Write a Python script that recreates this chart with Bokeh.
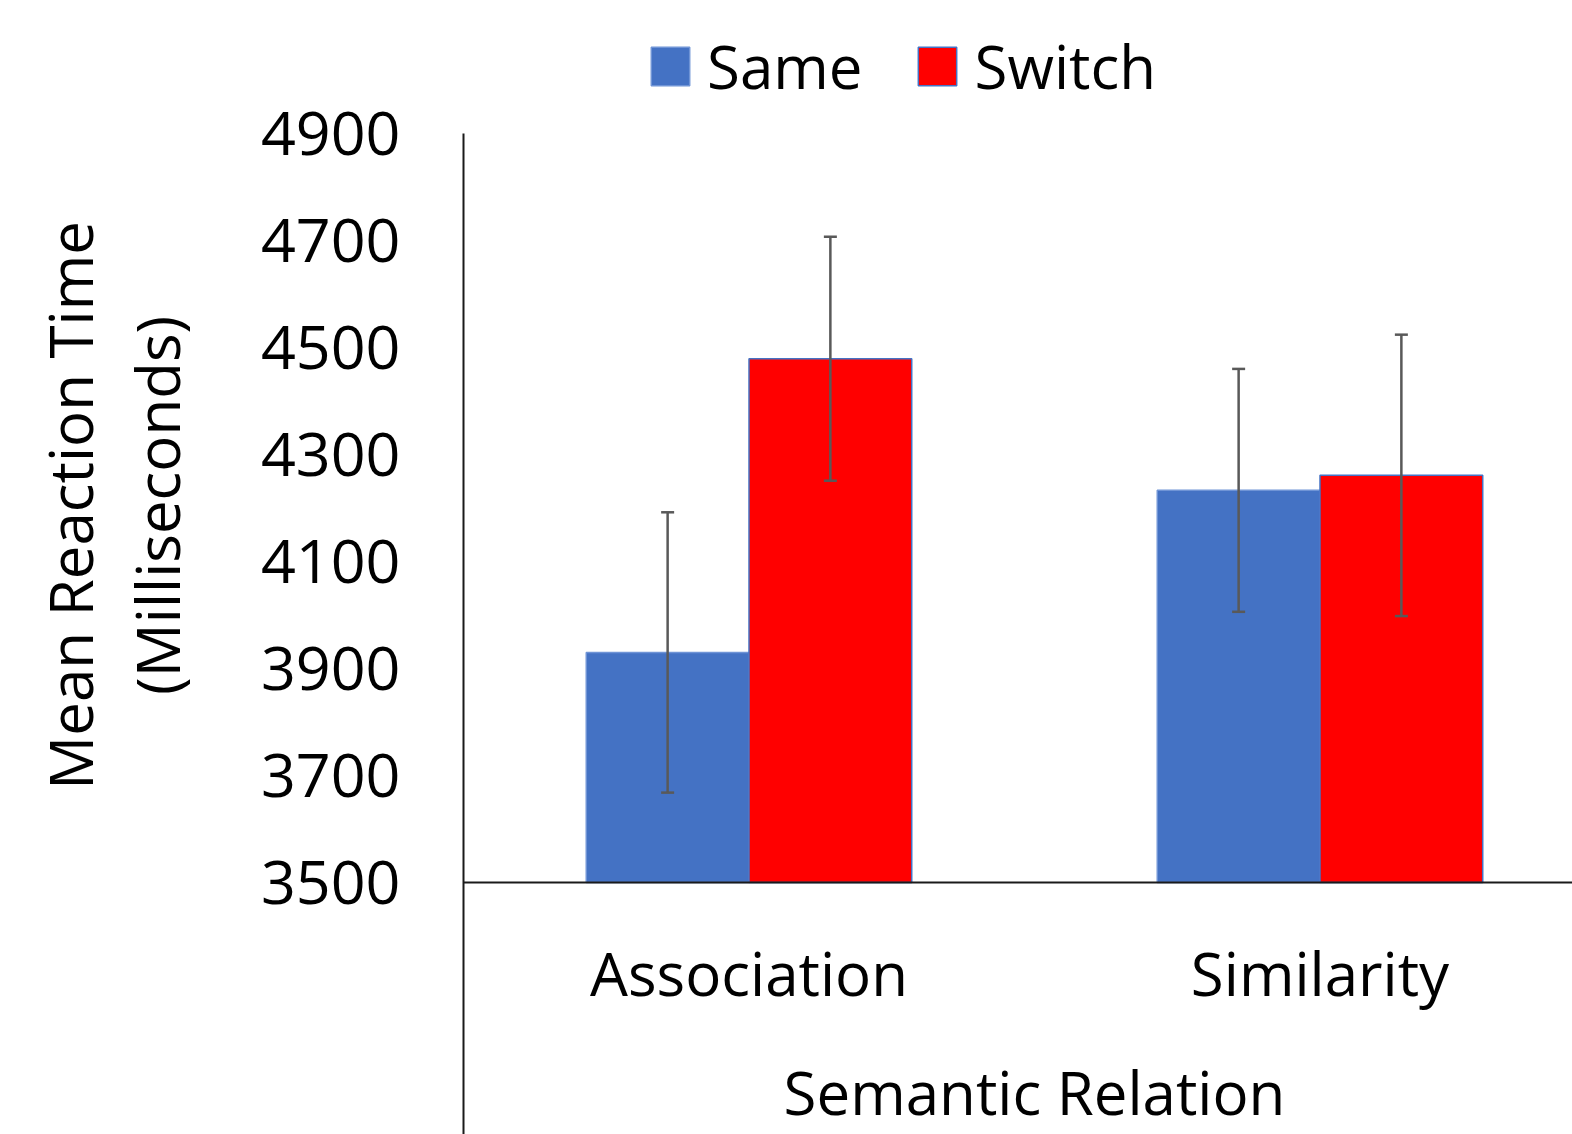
import numpy as np
from bokeh.plotting import figure
from bokeh.models import (Range1d, FixedTicker, Span, Whisker, TeeHead, ColumnDataSource,
                          Legend, LegendItem, Label)
from bokeh.core.properties import value
from bokeh.embed import file_html
from bokeh.resources import INLINE

# ---- data ----
categories = ["Association", "Similarity"]
series = ["Same", "Switch"]
same_rt = [3930, 4233]
switch_rt = [4479, 4261]
same_err = [262, 227]
switch_err = [228, 263]
y_ticks = [3500, 3700, 3900, 4100, 4300, 4500, 4700, 4900]
x_title = "Semantic Relation"
y_title = ["Mean Reaction Time", "(Milliseconds)"]
colors = ["#4472C4", "#FF0000"]

FONT = "Open Sans"
BAR_W = 0.285

idx = np.arange(len(categories)) + 0.5
x_same = idx - BAR_W / 2
x_switch = idx + BAR_W / 2

p = figure(width=1572, height=1134, output_backend="svg", toolbar_location=None,
           x_range=Range1d(0, 1109 / 571), y_range=Range1d(3029, 5148.6),
           x_axis_location=None, min_border_left=463, min_border_right=0,
           min_border_top=0, min_border_bottom=0)
p.outline_line_color = None
p.xgrid.visible = False
p.ygrid.visible = False
p.background_fill_color = "white"
p.border_fill_color = "white"

# y axis
ax = p.yaxis[0]
ax.ticker = FixedTicker(ticks=y_ticks)
ax.bounds = (3029, 4900)
ax.major_tick_line_color = None
ax.minor_tick_line_color = None
ax.major_label_standoff = 57
ax.major_label_text_font = FONT
ax.major_label_text_font_size = "61px"
ax.major_label_text_color = "black"
ax.axis_line_color = "#1a1a1a"
ax.axis_line_width = 2

# baseline
p.add_layout(Span(location=3500, dimension="width", line_color="#1a1a1a", line_width=2))

src_same = ColumnDataSource(dict(x=x_same, top=same_rt,
                                 upper=np.array(same_rt) + np.array(same_err),
                                 lower=np.array(same_rt) - np.array(same_err)))
src_switch = ColumnDataSource(dict(x=x_switch, top=switch_rt,
                                   upper=np.array(switch_rt) + np.array(switch_err),
                                   lower=np.array(switch_rt) - np.array(switch_err)))

r1 = p.vbar(x="x", top="top", bottom=3500, width=BAR_W, source=src_same,
            fill_color=colors[0], line_color="#6f94d6", line_width=1.5)
r2 = p.vbar(x="x", top="top", bottom=3500, width=BAR_W, source=src_switch,
            fill_color=colors[1], line_color="#4472C4", line_width=1.5)

for src in (src_same, src_switch):
    w = Whisker(base="x", upper="upper", lower="lower", source=src, level="overlay",
                line_color="#595959", line_width=2.5,
                upper_head=TeeHead(size=13, line_color="#595959", line_width=2.5),
                lower_head=TeeHead(size=13, line_color="#595959", line_width=2.5))
    p.add_layout(w)

# category labels and x title
p.text(x=idx, y=[3330] * len(categories), text=categories,
       text_font=value(FONT), text_font_size="60px", text_align="center",
       text_baseline="middle", text_color="black")
p.text(x=[len(categories) / 2], y=[3108], text=[x_title],
       text_font=value(FONT), text_font_size="60px", text_align="center",
       text_baseline="middle", text_color="black")

# y title (two lines), placed in the left side panel so it is not clipped to the frame
for xx, t in zip([-0.690, -0.537], y_title):
    p.add_layout(Label(x=xx, y=4205, text=t, angle=np.pi / 2, text_align="center",
                       text_baseline="middle", text_font=FONT, text_font_size="60px",
                       text_color="black"), "left")

legend = Legend(items=[LegendItem(label=series[0], renderers=[r1]),
                       LegendItem(label=series[1], renderers=[r2])],
                orientation="horizontal", location=(183, 1027),
                glyph_width=48, glyph_height=48, label_standoff=13, spacing=51,
                padding=0, margin=0, border_line_color=None, background_fill_alpha=0,
                label_text_font=FONT, label_text_font_size="60px", label_text_color="black")
p.add_layout(legend)

open("out.html", "w").write(file_html(p, INLINE))
